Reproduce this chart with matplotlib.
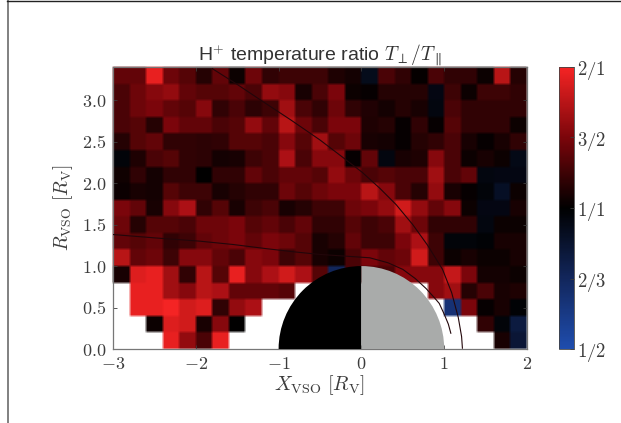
# -*- coding: utf-8 -*-
"""
H+ temperature ratio map around Venus, drawn on a red / black / blue scale.
"""
import numpy as np
import matplotlib
matplotlib.use("Agg")
from matplotlib import pyplot as plt
from matplotlib.colors import LinearSegmentedColormap
from matplotlib.patches import Wedge

# =============================================================================
# Data
# =============================================================================
# cell edges in planet radii
x_edges = [-3.0, -2.8, -2.6, -2.4, -2.2, -2.0, -1.8, -1.6, -1.4, -1.2, -1.0, -0.8, -0.6,
           -0.4, -0.2, 0.0, 0.2, 0.4, 0.6, 0.8, 1.0, 1.2, 1.4, 1.6, 1.8, 2.0]
y_edges = [3.4, 3.2, 3.0, 2.8, 2.6, 2.4, 2.2, 2.0, 1.8, 1.6, 1.4, 1.2, 1.0, 0.8, 0.6, 0.4, 0.2, 0.0]

nan = np.nan
# rows run from the top of the map down, +1 is 2/1, 0 is 1/1, -1 is 1/2
ratio_cells = [
    [.40, .40, .95, .45, .35, .15, .40, .05, .45, .20, .25, .25, .25, .12, .08, -.15, .30, .20, .02, .30, .20, .20, .05, .75, .15],
    [.30, .45, .55, .60, .40, .35, .35, .40, .30, .60, .55, .10, .30, .50, .05, .03, .15, .15, .15, -.10, .25, .05, .25, .25, .20],
    [.30, .45, .50, .40, .35, .55, .20, .30, .18, .25, .65, .30, .20, .45, .20, .13, .08, .15, .10, -.08, .30, .20, .20, .20, .20],
    [.30, .35, .15, .50, .40, .40, .30, .35, .60, .40, .75, .45, .30, .50, .50, .12, .15, .03, .20, .03, .35, .20, .20, .20, .05],
    [.15, .35, .40, .20, .20, .18, .20, .35, .35, .30, .55, .35, .65, .35, .45, .10, .08, .03, .15, .20, .30, .10, .03, .10, .20],
    [-.05, .12, .30, .35, .20, .18, .08, .10, .25, .30, .70, .30, .55, .55, .03, .40, -.08, .10, .12, .55, .30, .05, .10, .05, -.12],
    [.07, .20, .08, .20, .20, .00, .20, .20, .40, .30, .40, .40, .35, .60, .45, .30, .35, .30, .30, .65, .30, .40, -.08, -.10, -.10],
    [.04, .10, .08, .35, .25, .25, .10, .15, .20, .20, .45, .35, .45, .50, .50, .75, .55, .30, .15, .60, .10, .03, -.05, -.20, .05],
    [.50, .40, .10, .55, .70, .20, .35, .10, .25, .30, .10, .15, .25, .25, .45, .50, .60, .85, .60, .40, .55, .05, -.10, -.10, .10],
    [.45, .15, .35, .35, .30, .45, .45, .50, .35, .40, .30, .40, .20, .20, .35, .25, .30, .65, .45, .20, .20, .20, -.08, .05, .05],
    [.40, .35, .40, .20, .25, .40, .45, .50, .40, .50, .45, .35, .10, .15, .40, .25, .25, .50, .70, .25, -.05, -.05, -.03, .10, .10],
    [.75, .40, .45, .25, .55, .55, .40, .30, .55, .50, .25, .35, .10, .05, .30, .50, .40, .45, .85, .25, .05, .10, .05, .05, .10],
    [.10, .90, .95, .65, .20, .75, .35, .95, .55, .70, .85, .70, .35, -.50, .30, .30, .30, .55, .55, .55, .80, .50, .08, .08, .05],
    [nan, .95, .95, .65, .55, .75, .70, .40, .40, .40, .35, nan, nan, nan, nan, nan, nan, nan, nan, .55, .65, .15, .30, .10, .12],
    [nan, .95, .95, 1.0, .85, .90, .20, .60, .70, nan, nan, nan, nan, nan, nan, nan, nan, nan, nan, nan, -.65, .50, .03, .10, -.03],
    [nan, nan, .05, .90, .85, .10, .55, .00, nan, nan, nan, nan, nan, nan, nan, nan, nan, nan, nan, nan, nan, nan, .20, -.05, -.35],
    [nan, nan, nan, .95, .60, .30, .95, nan, nan, nan, nan, nan, nan, nan, nan, nan, nan, nan, nan, nan, nan, nan, nan, .10, -.30],
]

# boundary curves
bow_x = [-1.80, -1.50, -1.20, -0.85, -0.50, -0.25, 0.01, 0.22, 0.42, 0.62, 0.80, 0.98, 1.09, 1.17, 1.21, 1.22]
bow_y = [3.38, 3.19, 2.99, 2.76, 2.52, 2.33, 2.13, 1.94, 1.74, 1.50, 1.25, 0.96, 0.68, 0.38, 0.15, 0.01]
imb_x = [-3.00, -2.50, -1.95, -1.55, -1.15, -0.80, -0.50, -0.20, 0.10, 0.32, 0.50, 0.65, 0.78, 0.88, 0.94, 1.00, 1.05, 1.08]
imb_y = [1.38, 1.34, 1.30, 1.26, 1.21, 1.17, 1.14, 1.12, 1.10, 1.04, 0.96, 0.85, 0.73, 0.62, 0.55, 0.42, 0.30, 0.19]

x_ticks = [-3, -2, -1, 0, 1, 2]
x_tick_labels = [r"$-3$", r"$-2$", r"$-1$", r"$0$", r"$1$", r"$2$"]
y_ticks = [0.0, 0.5, 1.0, 1.5, 2.0, 2.5, 3.0]
cbar_ticks = [-1, -0.5, 0, 0.5, 1]
cbar_labels = [r"$1/2$", r"$2/3$", r"$1/1$", r"$3/2$", r"$2/1$"]


# =============================================================================
# Soft edges, the reference is a scanned page
# =============================================================================
def soften(radius):
    kernel = np.array([1.0] * (2 * radius + 1)) / (2 * radius + 1)

    def _filter(img, dpi):
        pad = radius + 2
        out = np.pad(img, ((pad, pad), (pad, pad), (0, 0)))
        out[..., :3] *= out[..., 3:]
        for axis in (0, 1):
            out = np.apply_along_axis(np.convolve, axis, out, kernel, mode="same")
        alpha = np.clip(out[..., 3:], 1e-4, 1)
        out[..., :3] = np.clip(out[..., :3] / alpha, 0, 1)
        return out, -pad, -pad

    return _filter


# =============================================================================
# Plot
# =============================================================================
plt.rcParams["font.family"] = ["Liberation Sans", "DejaVu Sans"]
plt.rcParams["mathtext.fontset"] = "cm"
plt.rcParams["font.size"] = 13

W, H = 621.0, 423.0
text_color = "#3c3c3c"
edge_color = "#777777"

cmap = LinearSegmentedColormap.from_list(
    "rkb",
    [
        (0.0, (0.12, 0.30, 0.68)),
        (0.25, (0.07, 0.15, 0.36)),
        (0.5, (0.0, 0.0, 0.0)),
        (0.75, (0.48, 0.02, 0.04)),
        (1.0, (0.96, 0.14, 0.14)),
    ],
)

fig = plt.figure(figsize=(6.21, 4.23), dpi=100)

# page frame around the figure
fig.add_artist(plt.Line2D([7.5 / W, 7.5 / W], [0, 1 - 1 / H], color="#808080", lw=1.4))
fig.add_artist(plt.Line2D([7 / W, 1], [1 - 1.2 / H, 1 - 1.2 / H], color="#222222", lw=1.0))

ax = fig.add_axes([113 / W, 1 - 349 / H, 414 / W, 282 / H])
mesh = ax.pcolormesh(x_edges, y_edges, np.array(ratio_cells), cmap=cmap, vmin=-1, vmax=1)
mesh.set_agg_filter(soften(1))

ax.add_patch(Wedge((0, 0), 1.0, 90, 270, fc="black", ec="none", zorder=3))
ax.add_patch(Wedge((0, 0), 1.0, -90, 90, fc="#a9abaa", ec="none", zorder=3))
ax.plot(bow_x, bow_y, color="#22060a", lw=0.8, zorder=4)
ax.plot(imb_x, imb_y, color="#22060a", lw=0.8, zorder=4)

ax.set_xlim(-3, 2)
ax.set_ylim(0, 3.4)
ax.set_xticks(x_ticks)
ax.set_xticklabels(x_tick_labels)
ax.set_yticks(y_ticks)
ax.set_yticklabels([r"$%.1f$" % v for v in y_ticks])
ax.tick_params(direction="in", length=3, width=0.6, colors=text_color, labelsize=13, pad=5)
ax.tick_params(top=True, right=True)
for spine in ax.spines.values():
    spine.set_color(edge_color)
    spine.set_linewidth(0.9)

ax.set_xlabel(r"$X_{\mathrm{VSO}}\ [R_{\mathrm{V}}]$", fontsize=14.5, color=text_color, labelpad=0)
ax.set_ylabel(r"$R_{\mathrm{VSO}}\ [R_{\mathrm{V}}]$", fontsize=14, color=text_color, labelpad=5)
ax.set_title(r"H$^{+}$ temperature ratio $T_{\perp}/T_{\parallel}$", fontsize=14, color="#333333", pad=5)

cax = fig.add_axes([559 / W, 1 - 349 / H, 15 / W, 282 / H])
cb = fig.colorbar(mesh, cax=cax)
cb.set_ticks(cbar_ticks)
cb.set_ticklabels(cbar_labels)
cb.ax.tick_params(direction="in", length=3, width=0.6, colors=text_color, labelsize=13.5, pad=2)
cb.outline.set_edgecolor("#444444")
cb.outline.set_linewidth(0.6)

fig.savefig("out.png", dpi=100)
